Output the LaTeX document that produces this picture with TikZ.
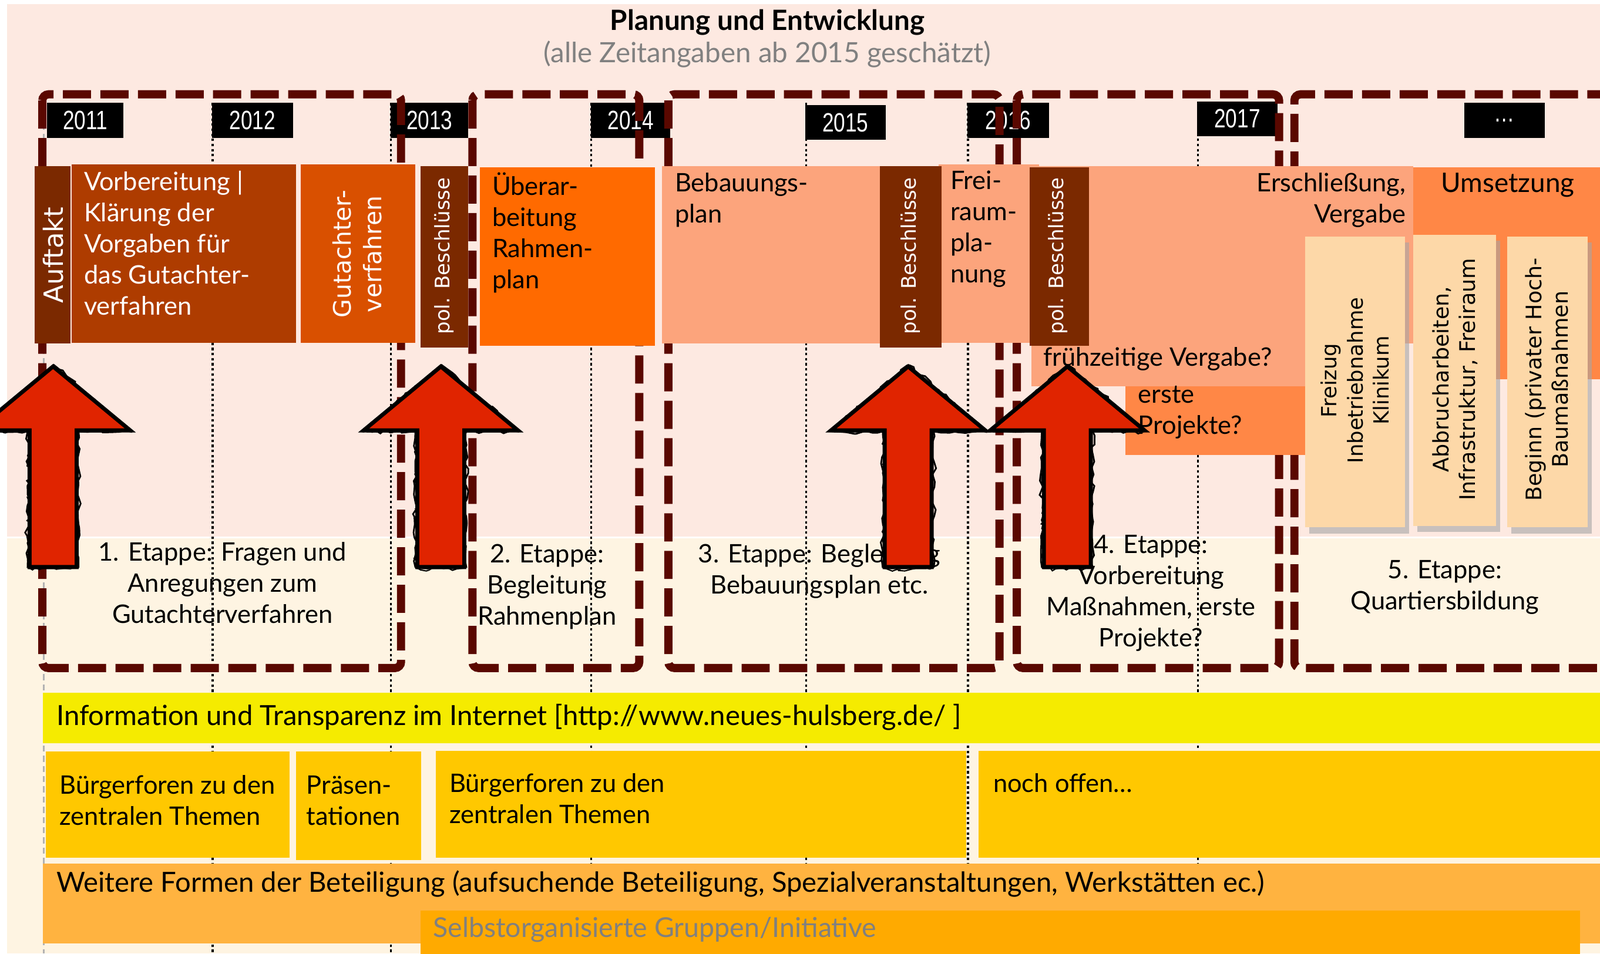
\documentclass[tikz,border=0pt]{standalone}
\usepackage{fontspec}
\setmainfont{Lato}
\newfontfamily\rotfont{DejaVu Sans}
\newfontfamily\yearfont[FakeStretch=0.78]{Liberation Sans}
\usetikzlibrary{decorations.pathmorphing}
\definecolor{bgpink}{RGB}{253,233,225}
\definecolor{bgcream}{RGB}{254,244,226}
\definecolor{stagec}{RGB}{90,8,0}
\definecolor{darkb}{RGB}{123,41,0}
\definecolor{rust}{RGB}{174,60,0}
\definecolor{burnt}{RGB}{217,80,0}
\definecolor{brightor}{RGB}{255,106,0}
\definecolor{salmon}{RGB}{252,164,124}
\definecolor{midor}{RGB}{255,135,70}
\definecolor{creambox}{RGB}{253,216,168}
\definecolor{yel}{RGB}{245,235,0}
\definecolor{gold}{RGB}{255,200,0}
\definecolor{lightor}{RGB}{255,179,64}
\definecolor{selbst}{RGB}{255,170,0}
\definecolor{arrowred}{RGB}{224,36,0}
\definecolor{subgray}{RGB}{128,128,128}
\tikzset{
  txt/.style={font=\fontsize{12.5}{15.25}\selectfont, inner sep=0pt, align=left, text=black},
  bigtxt/.style={font=\fontsize{13.6}{16}\selectfont, inner sep=0pt, align=left, text=black},
  rot/.style={font=\rotfont\fontsize{10.5}{13}\selectfont, rotate=90, inner sep=0pt, align=center},
  stagebox/.style={draw=stagec, line width=4pt, dash pattern=on 13.8pt off 4.6pt, rounded corners=3pt},
  yearline/.style={black, line width=1pt, dash pattern=on 1.2pt off 1.3pt},
  yearbox/.style={fill=black},
  yeartxt/.style={font=\yearfont\fontsize{13}{14}\selectfont, text=white, inner sep=0pt},
  redarrow/.pic={
    \fill[black] (-3,366) -- (67,424) -- (18,424) -- (18,558) -- (-24,558) -- (-24,424) -- (-73,424) -- cycle;
    \draw[black, line width=4pt, line join=miter] (0,362) -- (70,420) -- (21,420) -- (21,554) -- (-21,554) -- (-21,420) -- (-70,420) -- cycle;
    \draw[black, line width=0.8pt, decorate, decoration={random steps, segment length=3pt, amplitude=1.2pt}] (1,358) -- (75,423) -- (25,423) -- (25,556) -- (-25,556) -- (-25,423) -- (-75,423) -- cycle;
    \draw[black, line width=0.6pt, decorate, decoration={random steps, segment length=2pt, amplitude=1.5pt}] (-2,364) -- (64,421) -- (18,421) -- (18,557) -- (-23,557) -- (-23,421) -- (-72,421) -- cycle;
    \fill[arrowred] (0,362) -- (70,420) -- (21,420) -- (21,554) -- (-21,554) -- (-21,420) -- (-70,420) -- cycle;
  }
}
\begin{document}
\begin{tikzpicture}[x=0.5pt,y=-0.5pt]
\useasboundingbox (0,0) rectangle (1568,935);
\fill[white] (0,0) rectangle (1568,935);
\begin{scope}
\clip (0,0) rectangle (1568,935);
% backgrounds
\fill[bgpink] (7,4) rectangle (1568,527);
\fill[bgcream] (7,527) rectangle (1568,935);
\draw[white, line width=1pt] (7,527) -- (1568,527);
% title
\node[font=\bfseries\fontsize{13.7}{16}\selectfont, inner sep=0pt] (title) at (752,22) {Planung und Entwicklung};
\node[font=\fontsize{13.7}{16}\selectfont, text=subgray, inner sep=0pt] (subtitle) at (752,53) {(alle Zeitangaben ab 2015 geschätzt)};
% year lines
\draw[gray!60, line width=1pt, dash pattern=on 3pt off 2pt] (43,101) -- (43,935);
\foreach \x in {208.5,383,579.5,790,948.5,1174} \draw[yearline] (\x,101) -- (\x,935);
% year labels
\foreach \a/\b/\c/\d/\t [count=\i] in {46/121/101/135/2011, 208/287/101/135/2012, 383/459/101/135/2013, 579/657/101/135/2014, 789/868/103/137/2015, 948/1028/101/135/2016, 1173/1252/99.5/133.5/2017, 1435/1514/101/135/\dots}{
  \fill[yearbox] (\a,\c) rectangle (\b,\d);
  \node[yeartxt] (year\i) at ({(\a+\b)/2},{(\c+\d)/2}) {\t};
}
% stage boxes
\draw[stagebox] (41.5,92.5) rectangle (393,655);
\draw[stagebox] (463,92.5) rectangle (626.5,655);
\draw[stagebox] (655,92.5) rectangle (979.5,655);
\draw[stagebox] (996.5,92.5) rectangle (1253.5,655);
\draw[stagebox] (1620,92.5) -- (1268.5,92.5) -- (1268.5,655) -- (1620,655);
% top row boxes
\fill[darkb] (34,163) rectangle (69,337);
\fill[rust] (70,161) rectangle (290,336);
\fill[burnt] (295,161) rectangle (407,336);
\fill[darkb] (412,163) rectangle (459,341);
\fill[brightor] (470,164) rectangle (642,339);
\fill[salmon] (649,163) rectangle (870,337);
\fill[salmon] (920,161) rectangle (1018,336);
\fill[darkb] (862,163) rectangle (923,341);
\fill[salmon] (1011,163) rectangle (1385,337);
\fill[salmon] (1011,337) rectangle (1279,379);
\fill[darkb] (1009,164) rectangle (1067,339);
\fill[midor] (1385,164) rectangle (1568,372);
\fill[midor] (1103,379) rectangle (1279,446);
% cream boxes with shadows
\foreach \a/\b/\c/\d in {1279/1377/232/517, 1385/1466/230/515.5, 1477/1556/232/517}{
  \fill[black!35, opacity=0.6] (\a+4,\c+6) rectangle (\b+4,\d+6);
  \fill[creambox] (\a,\c) rectangle (\b,\d);
}
% top row texts
\node[rot, text=white, font=\rotfont\fontsize{13}{15}\selectfont] (auftakt) at (52,250) {Auftakt};
\node[txt, text=white, anchor=north west] (vorb) at (82,167) {Vorbereitung |\\Klärung der\\Vorgaben für\\das Gutachter-\\verfahren};
\node[rot, text=white, font=\rotfont\fontsize{11.8}{15}\selectfont] (gutachter) at (350,249) {Gutachter-\\verfahren};
\node[rot, text=white, font=\rotfont\fontsize{9.8}{12}\selectfont] (pol1) at (435,251) {pol. Beschlüsse};
\node[txt, anchor=north west] (ueber) at (482,169) {Überar-\\beitung\\Rahmen-\\plan};
\node[txt, anchor=north west] (bebau) at (661,169) {Bebauungs-\\plan};
\node[rot, text=white, font=\rotfont\fontsize{9.8}{12}\selectfont] (pol2) at (892,251) {pol. Beschlüsse};
\node[txt, anchor=north west] (frei) at (931,167) {Frei-\\raum-\\pla-\\nung};
\node[rot, text=white, font=\rotfont\fontsize{9.8}{12}\selectfont] (pol3) at (1037,251) {pol. Beschlüsse};
\node[txt, anchor=north east, align=right] (erschl) at (1378,169) {Erschließung,\\Vergabe};
\node[txt, anchor=north west, font=\fontsize{13.2}{15.25}\selectfont] (umsetz) at (1412,169) {Umsetzung};
\node[txt, anchor=north west] (fruh) at (1022,340) {frühzeitige Vergabe?};
\node[txt, anchor=north west] (erste) at (1115,378) {erste\\Projekte?};
\node[rot, font=\rotfont\fontsize{10.2}{12.8}\selectfont] (freizug) at (1328,373) {Freizug\\Inbetriebnahme\\Klinikum};
\node[rot] (abbruch) at (1426,372) {Abbrucharbeiten,\\Infrastruktur, Freiraum};
\node[rot] (beginn) at (1516,372) {Beginn (privater Hoch-\\Baumaßnahmen};
% stage texts
\node[txt, align=center, anchor=north] (s1) at (218,531) {1. Etappe: Fragen und\\Anregungen zum\\Gutachterverfahren};
\node[txt, align=center, anchor=north] (s2) at (536,533) {2. Etappe:\\Begleitung\\Rahmenplan};
\node[txt, align=center, anchor=north] (s3) at (803,533) {3. Etappe: Begleitung\\Bebauungsplan etc.};
\node[txt, align=center, anchor=north] (s4) at (1128,524) {4. Etappe:\\Vorbereitung\\Maßnahmen, erste\\Projekte?};
\node[txt, align=center, anchor=north] (s5) at (1416,549) {5. Etappe:\\Quartiersbildung};
% arrows
\pic (arr1) at (52,0) {redarrow};
\pic (arr2) at (432,0) {redarrow};
\pic (arr3) at (890,0) {redarrow};
\pic (arr4) at (1046,0) {redarrow};
% participation rows
\fill[yel] (42,679) rectangle (1568,729);
\node[bigtxt, anchor=north west] (info) at (55,690) {Information und Transparenz im Internet [http://www.neues-hulsberg.de/ ]};
\fill[gold] (45,737) rectangle (284,841);
\node[txt, anchor=north west] (bf1) at (58,760) {Bürgerforen zu den\\zentralen Themen};
\fill[gold] (290,737) rectangle (413,843);
\node[txt, anchor=north west] (praes) at (300,760) {Präsen-\\tationen};
\fill[gold] (427,736) rectangle (947,841);
\node[txt, anchor=north west] (bf2) at (440,758) {Bürgerforen zu den\\zentralen Themen};
\fill[gold] (959,736) rectangle (1568,841);
\node[txt, anchor=north west] (offen) at (973,758) {noch offen…};
\fill[lightor] (42,847) rectangle (1568,925);
\node[bigtxt, anchor=north west] (weitere) at (55,853) {Weitere Formen der Beteiligung (aufsuchende Beteiligung, Spezialveranstaltungen, Werkstätten ec.)};
\fill[selbst] (412,893) rectangle (1548.5,940);
\node[bigtxt, anchor=north west, text=subgray, font=\fontsize{13.4}{16}\selectfont] (selbstorg) at (424,899) {Selbstorganisierte Gruppen/Initiative};
\end{scope}
\end{tikzpicture}
\end{document}
